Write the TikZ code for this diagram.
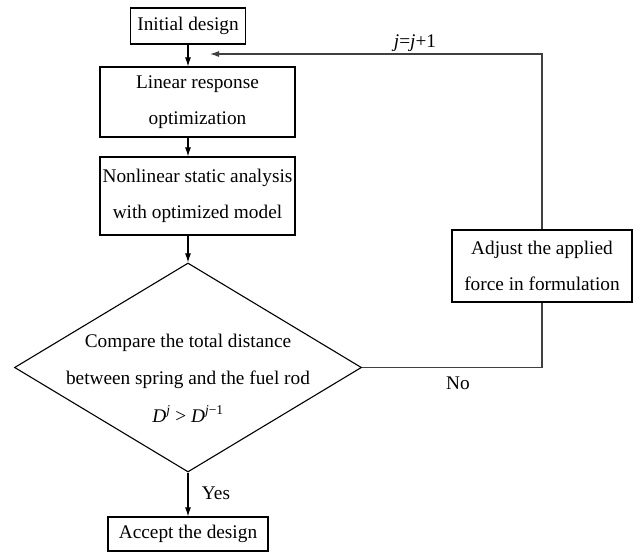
\documentclass[tikz,border=0pt]{standalone}
\usepackage{fontspec}
\setmainfont{Liberation Serif}
\usetikzlibrary{shapes.geometric,arrows.meta}
\begin{document}
\begin{tikzpicture}[x=1pt,y=-1pt,
  every node/.style={font=\fontsize{19.3}{36}\selectfont},
  box/.style={draw,line width=1.1pt,align=center,inner sep=0pt,minimum width=#1},
  dec/.style={draw,line width=1.1pt,diamond,aspect=1.66,align=center,minimum width=347pt,minimum height=209pt,inner sep=0pt},
  arr/.style={line width=1.1pt,-{Latex[length=9pt,width=6pt]}},
  fb/.style={line width=1.1pt,draw=black!75},
  lbl/.style={inner sep=0pt}]
\useasboundingbox (0,0) rectangle (635,553);
\node[box=115pt,minimum height=36pt,line width=1.8pt] (init) at (188,26) {Initial design};
\node[box=195pt,minimum height=70pt] (lin) at (197.5,102) {Linear response\\optimization};
\node[box=195pt,minimum height=78pt] (nonlin) at (197.5,196) {Nonlinear static analysis\\with optimized model};
\node[dec] (dec) at (188,367.5) {};
\node[lbl] (t1) at (188,343) {Compare the total distance};
\node[lbl] (t2) at (188,380) {between spring and the fuel rod};
\node[lbl] (t3) at (188,414) {\textit{D}\textsuperscript{\textit{j}} > \textit{D}\textsuperscript{\textit{j}−1}};
\node[box=160pt,minimum height=34pt] (acc) at (188,534) {Accept the design};
\node[box=180pt,minimum height=72pt] (adj) at (542,266) {Adjust the applied\\force in formulation};
\coordinate (c1) at (adj.south |- dec.east);
\coordinate (c2) at (542,54);
\coordinate (fbend) at (210,54);
\draw[arr] (init.south) -- (init.south |- lin.north);
\draw[arr] (init.south |- lin.south) -- (init.south |- nonlin.north);
\draw[arr] (init.south |- nonlin.south) -- (dec.north);
\draw[arr] (dec.south) -- (acc.north);
\draw[fb] (dec.east) -- (c1) -- (adj.south);
\draw[fb,-{Latex[length=9pt,width=6pt]}] (adj.north) -- (c2) -- (fbend);
\node[lbl] (jl) at (415,43) {\textit{j}=\textit{j}+1};
\node[lbl] (no) at (458,383) {No};
\node[lbl] (yes) at (216,493) {Yes};
\end{tikzpicture}
\end{document}
